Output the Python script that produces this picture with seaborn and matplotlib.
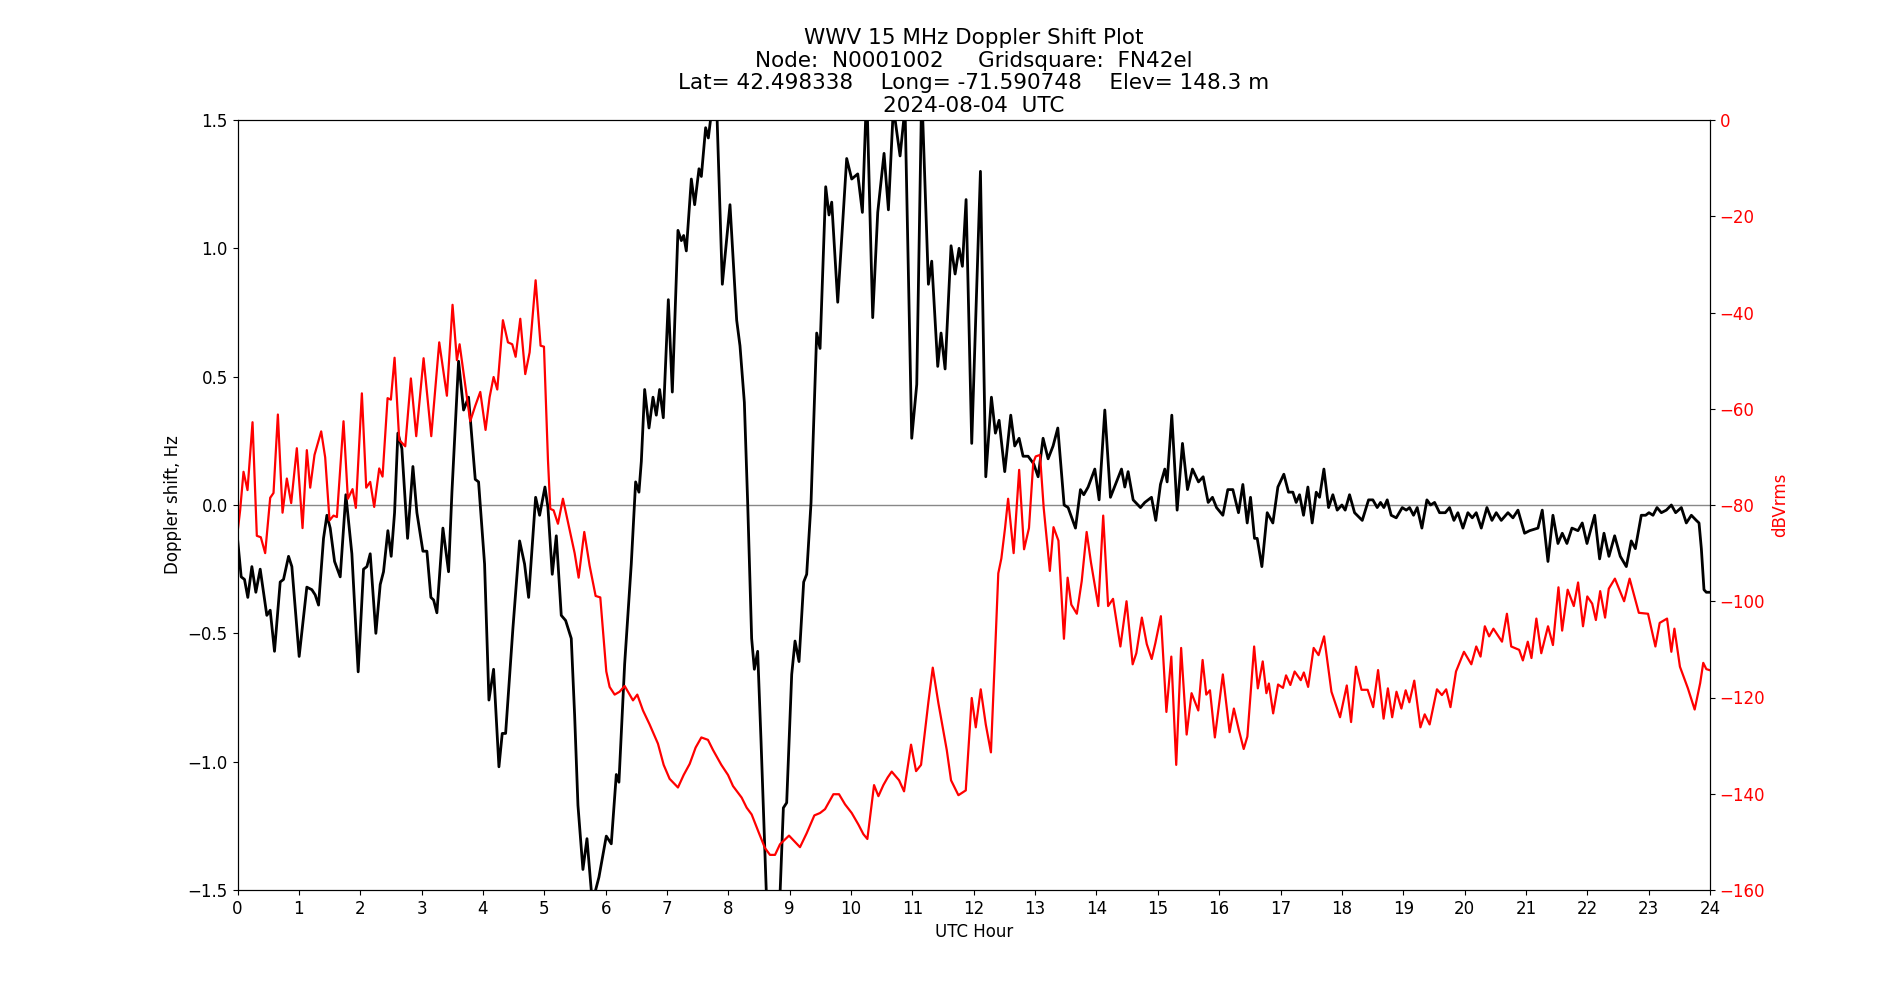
import matplotlib
matplotlib.use("Agg")
import matplotlib.pyplot as plt
import seaborn as sns
import pandas as pd

# Doppler shift (Hz) vs UTC hour
doppler_hours = [
    0.000, 0.060, 0.114, 0.168, 0.234, 0.299, 0.370, 0.478, 0.533, 0.603,
    0.696, 0.750, 0.832, 0.886, 1.005, 1.130, 1.212, 1.266, 1.321, 1.402,
    1.457, 1.511, 1.582, 1.674, 1.766, 1.864, 1.967, 2.054, 2.109, 2.163,
    2.255, 2.326, 2.380, 2.451, 2.505, 2.560, 2.614, 2.679, 2.772, 2.859,
    2.924, 3.022, 3.087, 3.152, 3.196, 3.250, 3.348, 3.440, 3.495, 3.603,
    3.685, 3.766, 3.875, 3.929, 4.027, 4.098, 4.174, 4.261, 4.315, 4.370,
    4.489, 4.598, 4.679, 4.745, 4.859, 4.924, 5.011, 5.060, 5.130, 5.196,
    5.277, 5.348, 5.440, 5.495, 5.549, 5.630, 5.696, 5.783, 5.891, 6.011,
    6.092, 6.174, 6.217, 6.310, 6.418, 6.489, 6.543, 6.582, 6.636, 6.707,
    6.772, 6.826, 6.880, 6.940, 7.022, 7.087, 7.179, 7.234, 7.272, 7.315,
    7.397, 7.451, 7.522, 7.560, 7.630, 7.674, 7.750, 7.815, 7.902, 8.027,
    8.136, 8.190, 8.261, 8.315, 8.380, 8.424, 8.478, 8.533, 8.625, 8.734,
    8.842, 8.897, 8.951, 9.033, 9.087, 9.152, 9.228, 9.277, 9.348, 9.440,
    9.495, 9.587, 9.641, 9.685, 9.783, 9.929, 10.011, 10.109, 10.185, 10.255,
    10.353, 10.435, 10.538, 10.609, 10.690, 10.799, 10.880, 10.989, 11.071, 11.152,
    11.261, 11.315, 11.413, 11.467, 11.533, 11.630, 11.696, 11.761, 11.815, 11.875,
    11.967, 12.109, 12.196, 12.288, 12.353, 12.413, 12.505, 12.603, 12.668, 12.739,
    12.804, 12.886, 12.978, 13.049, 13.130, 13.212, 13.293, 13.370, 13.473, 13.538,
    13.658, 13.739, 13.793, 13.864, 13.973, 14.043, 14.136, 14.228, 14.326, 14.408,
    14.462, 14.516, 14.598, 14.717, 14.788, 14.897, 14.967, 15.043, 15.114, 15.152,
    15.228, 15.315, 15.402, 15.484, 15.565, 15.663, 15.739, 15.821, 15.891, 15.957,
    16.060, 16.141, 16.223, 16.315, 16.386, 16.457, 16.511, 16.576, 16.620, 16.696,
    16.783, 16.875, 16.957, 17.054, 17.130, 17.201, 17.255, 17.310, 17.375, 17.446,
    17.516, 17.582, 17.636, 17.707, 17.783, 17.853, 17.924, 18.000, 18.054, 18.125,
    18.207, 18.332, 18.435, 18.505, 18.576, 18.630, 18.685, 18.739, 18.804, 18.886,
    18.984, 19.049, 19.103, 19.168, 19.228, 19.304, 19.386, 19.446, 19.511, 19.592,
    19.685, 19.755, 19.826, 19.891, 19.973, 20.054, 20.125, 20.190, 20.272, 20.364,
    20.446, 20.516, 20.598, 20.707, 20.788, 20.870, 20.978, 21.060, 21.196, 21.266,
    21.359, 21.440, 21.522, 21.592, 21.668, 21.750, 21.848, 21.918, 21.995, 22.120,
    22.201, 22.272, 22.353, 22.446, 22.538, 22.636, 22.717, 22.783, 22.880, 22.951,
    23.005, 23.071, 23.136, 23.207, 23.288, 23.370, 23.440, 23.533, 23.614, 23.696,
    23.777, 23.821, 23.859, 23.902, 23.940, 23.984,
]
doppler_hz = [
    -0.13, -0.28, -0.29, -0.36, -0.24, -0.34, -0.25, -0.43, -0.41, -0.57,
    -0.30, -0.29, -0.20, -0.24, -0.59, -0.32, -0.33, -0.35, -0.39, -0.13,
    -0.04, -0.09, -0.22, -0.28, 0.04, -0.19, -0.65, -0.25, -0.24, -0.19,
    -0.50, -0.31, -0.26, -0.10, -0.20, -0.03, 0.28, 0.22, -0.13, 0.15,
    -0.03, -0.18, -0.18, -0.36, -0.37, -0.42, -0.09, -0.26, 0.05, 0.56,
    0.37, 0.42, 0.10, 0.09, -0.23, -0.76, -0.64, -1.02, -0.89, -0.89,
    -0.48, -0.14, -0.23, -0.36, 0.03, -0.04, 0.07, -0.01, -0.27, -0.12,
    -0.43, -0.45, -0.52, -0.82, -1.17, -1.42, -1.30, -1.55, -1.45, -1.29,
    -1.32, -1.05, -1.08, -0.62, -0.23, 0.09, 0.05, 0.17, 0.45, 0.30,
    0.42, 0.35, 0.45, 0.34, 0.80, 0.44, 1.07, 1.03, 1.05, 0.99,
    1.27, 1.17, 1.31, 1.28, 1.47, 1.43, 1.58, 1.52, 0.86, 1.17,
    0.72, 0.62, 0.40, 0.01, -0.52, -0.64, -0.57, -0.92, -1.55, -1.65,
    -1.52, -1.18, -1.16, -0.66, -0.53, -0.61, -0.30, -0.27, 0.01, 0.67,
    0.61, 1.24, 1.13, 1.18, 0.79, 1.35, 1.27, 1.29, 1.14, 1.62,
    0.73, 1.14, 1.37, 1.15, 1.55, 1.36, 1.55, 0.26, 0.47, 1.62,
    0.86, 0.95, 0.54, 0.67, 0.53, 1.01, 0.90, 1.00, 0.93, 1.19,
    0.24, 1.30, 0.11, 0.42, 0.28, 0.33, 0.13, 0.35, 0.23, 0.26,
    0.19, 0.19, 0.16, 0.11, 0.26, 0.18, 0.23, 0.30, 0.00, -0.01,
    -0.09, 0.06, 0.04, 0.07, 0.14, 0.02, 0.37, 0.03, 0.09, 0.14,
    0.07, 0.13, 0.02, -0.01, 0.01, 0.03, -0.06, 0.08, 0.14, 0.09,
    0.35, -0.02, 0.24, 0.06, 0.14, 0.09, 0.11, 0.01, 0.03, -0.01,
    -0.04, 0.06, 0.06, -0.03, 0.08, -0.07, 0.03, -0.13, -0.13, -0.24,
    -0.03, -0.07, 0.07, 0.12, 0.05, 0.05, 0.01, 0.04, -0.04, 0.07,
    -0.07, 0.05, 0.03, 0.14, -0.01, 0.04, -0.02, 0.00, -0.02, 0.04,
    -0.03, -0.06, 0.02, 0.02, -0.01, 0.01, -0.01, 0.02, -0.04, -0.05,
    -0.01, -0.02, -0.01, -0.04, -0.01, -0.09, 0.02, 0.00, 0.01, -0.03,
    -0.03, -0.01, -0.06, -0.03, -0.09, -0.03, -0.05, -0.03, -0.09, -0.01,
    -0.06, -0.03, -0.06, -0.03, -0.05, -0.02, -0.11, -0.10, -0.09, -0.02,
    -0.22, -0.04, -0.15, -0.11, -0.15, -0.09, -0.10, -0.07, -0.15, -0.04,
    -0.21, -0.11, -0.20, -0.12, -0.20, -0.24, -0.14, -0.17, -0.04, -0.04,
    -0.03, -0.04, -0.01, -0.03, -0.02, 0.00, -0.03, -0.01, -0.07, -0.04,
    -0.06, -0.07, -0.17, -0.33, -0.34, -0.34,
]

# Signal power (dBVrms) vs UTC hour
power_hours = [
    0.000, 0.043, 0.098, 0.163, 0.245, 0.315, 0.380, 0.451, 0.533, 0.587,
    0.658, 0.734, 0.804, 0.875, 0.967, 1.060, 1.130, 1.185, 1.255, 1.364,
    1.429, 1.500, 1.565, 1.620, 1.728, 1.799, 1.875, 1.929, 2.027, 2.098,
    2.163, 2.228, 2.310, 2.364, 2.446, 2.500, 2.560, 2.636, 2.734, 2.826,
    2.913, 3.033, 3.158, 3.288, 3.413, 3.505, 3.576, 3.620, 3.793, 3.875,
    3.957, 4.043, 4.109, 4.174, 4.234, 4.326, 4.408, 4.478, 4.533, 4.609,
    4.690, 4.761, 4.859, 4.940, 4.995, 5.060, 5.098, 5.152, 5.223, 5.304,
    5.424, 5.495, 5.560, 5.652, 5.739, 5.837, 5.913, 6.011, 6.065, 6.147,
    6.228, 6.310, 6.446, 6.516, 6.609, 6.717, 6.853, 6.946, 7.043, 7.179,
    7.272, 7.370, 7.467, 7.560, 7.668, 7.750, 7.886, 7.995, 8.076, 8.217,
    8.299, 8.380, 8.500, 8.598, 8.679, 8.761, 8.842, 8.989, 9.087, 9.168,
    9.277, 9.402, 9.495, 9.576, 9.712, 9.804, 9.902, 10.011, 10.120, 10.201,
    10.266, 10.375, 10.446, 10.527, 10.598, 10.663, 10.783, 10.864, 10.978, 11.060,
    11.141, 11.261, 11.332, 11.424, 11.560, 11.630, 11.750, 11.870, 11.967, 12.033,
    12.114, 12.196, 12.280, 12.340, 12.400, 12.450, 12.510, 12.560, 12.650, 12.740,
    12.820, 12.900, 12.970, 13.010, 13.080, 13.140, 13.240, 13.300, 13.380, 13.470,
    13.530, 13.590, 13.680, 13.760, 13.840, 13.910, 14.030, 14.110, 14.190, 14.270,
    14.390, 14.490, 14.590, 14.650, 14.740, 14.820, 14.900, 14.960, 15.050, 15.140,
    15.220, 15.300, 15.380, 15.470, 15.550, 15.660, 15.730, 15.790, 15.850, 15.930,
    16.060, 16.170, 16.240, 16.320, 16.400, 16.460, 16.570, 16.630, 16.710, 16.770,
    16.810, 16.880, 16.960, 17.040, 17.090, 17.160, 17.230, 17.330, 17.380, 17.450,
    17.540, 17.620, 17.710, 17.830, 17.970, 18.080, 18.150, 18.230, 18.320, 18.420,
    18.510, 18.590, 18.680, 18.750, 18.820, 18.890, 18.970, 19.040, 19.100, 19.180,
    19.280, 19.350, 19.430, 19.550, 19.630, 19.700, 19.770, 19.860, 19.990, 20.110,
    20.190, 20.260, 20.330, 20.400, 20.470, 20.610, 20.690, 20.760, 20.890, 20.950,
    21.030, 21.090, 21.170, 21.250, 21.360, 21.440, 21.530, 21.590, 21.680, 21.780,
    21.850, 21.930, 22.000, 22.080, 22.140, 22.210, 22.290, 22.350, 22.450, 22.600,
    22.690, 22.840, 22.990, 23.110, 23.180, 23.300, 23.370, 23.420, 23.510, 23.640,
    23.750, 23.840, 23.890, 23.940, 23.990,
]
power_dbv = [
    -85.8, -81.1, -73.1, -76.9, -62.8, -86.4, -86.7, -90.0, -78.5, -77.5,
    -61.2, -81.6, -74.5, -79.6, -68.2, -84.8, -68.6, -76.4, -69.6, -64.7,
    -70.1, -83.2, -82.2, -82.5, -62.6, -78.7, -76.7, -80.6, -56.8, -76.4,
    -75.2, -80.4, -72.4, -74.1, -57.8, -58.1, -49.4, -66.5, -67.8, -53.7,
    -65.7, -49.5, -65.7, -46.2, -57.3, -38.4, -49.9, -46.6, -62.6, -59.4,
    -56.5, -64.4, -57.6, -53.4, -56.0, -41.6, -46.2, -46.6, -49.2, -41.3,
    -52.8, -48.3, -33.3, -46.9, -47.1, -70.6, -80.8, -81.1, -83.9, -78.7,
    -85.8, -90.0, -95.1, -85.6, -92.6, -98.9, -99.2, -114.6, -117.8, -119.4,
    -118.8, -117.6, -120.6, -119.4, -122.7, -125.6, -129.6, -134.0, -136.9, -138.7,
    -136.1, -133.8, -130.4, -128.3, -128.8, -130.9, -134.0, -136.1, -138.4, -140.8,
    -142.9, -144.3, -148.2, -151.3, -152.7, -152.7, -150.5, -148.7, -150.0, -151.1,
    -148.2, -144.5, -144.0, -143.2, -140.1, -140.1, -142.2, -144.0, -146.4, -148.4,
    -149.4, -138.2, -140.5, -138.2, -136.6, -135.4, -137.2, -139.5, -129.8, -135.3,
    -134.0, -120.9, -113.8, -121.2, -130.9, -137.2, -140.3, -139.3, -120.1, -126.2,
    -118.3, -125.6, -131.4, -113.1, -94.2, -91.1, -84.8, -78.7, -90.0, -72.7,
    -89.2, -84.8, -71.2, -69.9, -69.6, -80.6, -93.7, -84.6, -87.4, -107.8,
    -95.1, -100.7, -102.6, -95.8, -85.6, -91.9, -101.0, -82.2, -101.0, -99.5,
    -109.4, -100.0, -113.1, -110.8, -103.4, -108.9, -112.0, -108.7, -103.1, -123.0,
    -111.5, -134.0, -109.7, -127.7, -119.1, -122.7, -112.2, -119.4, -118.5, -128.3,
    -115.2, -127.2, -122.3, -126.7, -130.7, -128.1, -109.4, -118.1, -112.5, -119.1,
    -117.1, -123.3, -117.3, -118.0, -115.4, -117.4, -114.6, -116.4, -114.8, -117.8,
    -109.7, -111.2, -107.3, -118.8, -124.1, -117.5, -125.1, -113.6, -118.4, -118.4,
    -122.0, -114.3, -124.4, -118.1, -124.1, -118.8, -122.3, -118.5, -121.0, -116.5,
    -126.2, -123.5, -125.6, -118.3, -119.5, -118.3, -122.0, -114.6, -110.5, -113.1,
    -109.4, -111.5, -105.2, -107.3, -105.7, -108.4, -102.6, -109.4, -110.1, -112.3,
    -108.4, -111.8, -103.6, -110.8, -105.2, -109.1, -97.1, -106.1, -97.6, -101.0,
    -96.1, -105.2, -99.0, -100.5, -103.9, -97.9, -103.4, -97.4, -95.3, -100.0,
    -95.3, -102.4, -102.6, -109.4, -104.5, -103.6, -110.5, -105.7, -113.6, -118.1,
    -122.5, -117.0, -112.8, -114.1, -114.3,
]

x_ticks = list(range(0, 25))
left_ticks = [-1.5, -1.0, -0.5, 0.0, 0.5, 1.0, 1.5]
right_ticks = [0, -20, -40, -60, -80, -100, -120, -140, -160]

title_lines = [
    "WWV 15 MHz Doppler Shift Plot",
    "Node:  N0001002     Gridsquare:  FN42el",
    "Lat= 42.498338    Long= -71.590748    Elev= 148.3 m",
    "2024-08-04  UTC",
]

plt.rcParams['font.family'] = ['DejaVu Sans']

df_d = pd.DataFrame({"hour": doppler_hours, "doppler": doppler_hz})
df_p = pd.DataFrame({"hour": power_hours, "power": power_dbv})

fig, ax = plt.subplots(figsize=(19, 10), dpi=100)
fig.subplots_adjust(left=0.125, right=0.9, bottom=0.11, top=0.88)

ax.axhline(0, color='#888888', lw=1.0, zorder=1)
sns.lineplot(data=df_d, x="hour", y="doppler", ax=ax, color='black',
             lw=2.0, estimator=None, sort=False, zorder=2)
ax.set_xlim(0, 24)
ax.set_ylim(-1.5, 1.5)
ax.set_xticks(x_ticks)
ax.set_yticks(left_ticks)
ax.set_xlabel("UTC Hour", fontsize=12)
ax.set_ylabel("Doppler shift, Hz", fontsize=12)
ax.tick_params(axis='both', labelsize=12)

ax2 = ax.twinx()
sns.lineplot(data=df_p, x="hour", y="power", ax=ax2, color='red',
             lw=1.6, estimator=None, sort=False)
ax2.set_ylim(-160, 0)
ax2.set_yticks(right_ticks)
ax2.set_ylabel("dBVrms", color='red', fontsize=12)
ax2.tick_params(axis='y', labelcolor='red', labelsize=12)
ax2.set_xlim(0, 24)

ax.set_title("\n".join(title_lines), fontsize=15.5, linespacing=1.16)

fig.savefig("out.png", dpi=100)
